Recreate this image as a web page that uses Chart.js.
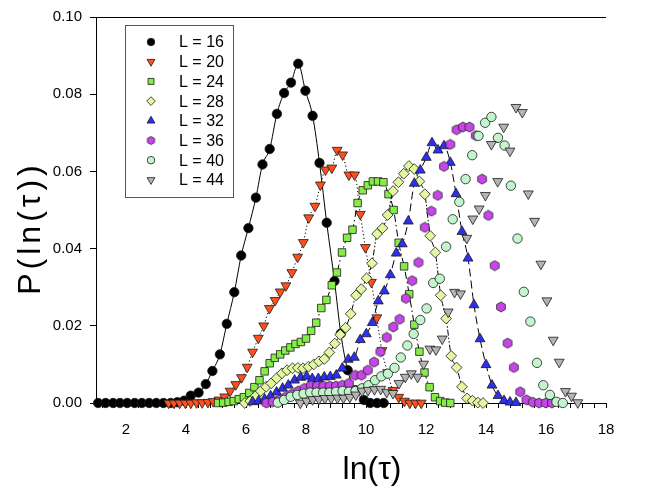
<!DOCTYPE html>
<html>
<head>
<meta charset="utf-8">
<script src="https://cdn.jsdelivr.net/npm/chart.js@4/dist/chart.umd.min.js"></script>
<style>
  html, body { margin: 0; padding: 0; background: #fff; }
  #wrap { width: 648px; height: 488px; position: relative; }
</style>
</head>
<body>
<div id="wrap"><canvas id="chart"></canvas></div>
<script>
// values: x = ln(tau), y = P(ln(tau))
const lnTau16 = [1.07,1.32,1.57,1.80,2.04,2.29,2.53,2.77,3.01,3.25,3.49,3.71,3.94,4.16,4.42,4.66,4.88,5.13,5.36,5.61,5.84,6.08,6.33,6.55,6.79,7.03,7.27,7.50,7.74,7.98,8.22,8.45,8.69,8.95,9.16,9.39,9.65,9.93,10.14,10.37,10.59];
const p16 = [0,0,0,0,0,0,0,0,0,0,0,0.0002,0.0006,0.0019,0.0027,0.0049,0.0083,0.0126,0.0205,0.0287,0.0382,0.0453,0.0532,0.0618,0.0658,0.0749,0.0803,0.083,0.0879,0.0809,0.0744,0.0622,0.0467,0.0316,0.018,0.0085,0.0033,0.0008,0,0,0];

const lnTau20 = [3.42,3.60,3.79,3.98,4.16,4.35,4.54,4.73,4.91,5.10,5.29,5.47,5.66,5.85,6.04,6.22,6.41,6.59,6.78,6.97,7.14,7.33,7.53,7.72,7.91,8.09,8.30,8.48,8.65,8.86,9.04,9.22,9.43,9.62,9.81,9.98,10.18,10.36,10.53,10.72,10.90,11.09,11.28,11.46,11.65,11.84];
const p20 = [0,0,0,0,0,0.0001,0.0001,0.0002,0.0004,0.0008,0.0016,0.0031,0.0048,0.0066,0.0093,0.0132,0.0168,0.02,0.0245,0.0266,0.0288,0.0304,0.0338,0.0378,0.0416,0.048,0.051,0.0565,0.0604,0.0609,0.0655,0.0643,0.0591,0.0591,0.0489,0.0403,0.0313,0.0221,0.0136,0.0079,0.0033,0.0015,0.0005,0,0,0];

const lnTau24 = [5.07,5.24,5.42,5.59,5.76,5.93,6.11,6.28,6.45,6.62,6.79,6.96,7.14,7.31,7.48,7.65,7.83,8.00,8.17,8.34,8.51,8.68,8.86,9.03,9.20,9.37,9.55,9.72,9.89,10.06,10.23,10.40,10.58,10.75,10.92,11.09,11.27,11.44,11.61,11.78,11.95,12.12,12.30,12.47,12.64,12.81];
const p24 = [0,0.0001,0.0003,0.0005,0.001,0.0015,0.0026,0.0041,0.0059,0.0082,0.0103,0.0117,0.0126,0.0136,0.0144,0.0153,0.0158,0.0167,0.0187,0.0208,0.0246,0.0267,0.0305,0.0338,0.039,0.0428,0.0449,0.0518,0.0551,0.0564,0.0574,0.0574,0.0572,0.0541,0.05,0.0415,0.0354,0.0282,0.0203,0.0133,0.0079,0.0041,0.0015,0.0005,0.0001,0];

const lnTau28 = [5.96,6.14,6.32,6.49,6.67,6.84,7.02,7.20,7.37,7.55,7.73,7.90,8.08,8.26,8.43,8.61,8.78,8.96,9.14,9.32,9.49,9.67,9.84,10.02,10.20,10.37,10.55,10.72,10.90,11.08,11.26,11.43,11.61,11.78,11.96,12.14,12.31,12.49,12.67,12.84,13.02,13.20,13.37,13.55,13.73,13.90];
const p28 = [0,0.0005,0.0018,0.0031,0.0042,0.0051,0.0064,0.0077,0.0085,0.009,0.0091,0.009,0.0094,0.01,0.0108,0.0114,0.0131,0.0154,0.0177,0.0195,0.0231,0.0279,0.0295,0.0323,0.0362,0.0438,0.0453,0.0487,0.0549,0.0572,0.0594,0.0614,0.0606,0.0574,0.0541,0.0433,0.039,0.0279,0.0219,0.0122,0.0092,0.0042,0.0012,0.0006,0.0001,0];

const lnTau32 = [6.22,6.42,6.62,6.82,7.02,7.22,7.41,7.62,7.82,8.02,8.21,8.41,8.61,8.81,9.01,9.21,9.41,9.61,9.81,10.01,10.21,10.41,10.61,10.81,11.01,11.21,11.41,11.61,11.81,12.01,12.20,12.40,12.60,12.81,13.00,13.20,13.40,13.60,13.80,14.00,14.20,14.40,14.60,14.80,15.00];
const p32 = [0.0003,0.0005,0.001,0.0018,0.0028,0.0038,0.0046,0.0059,0.0066,0.0069,0.0063,0.0063,0.0067,0.0068,0.0072,0.009,0.0113,0.0118,0.0164,0.0179,0.0208,0.0264,0.029,0.0332,0.0388,0.0412,0.0471,0.0569,0.0603,0.0636,0.0674,0.0655,0.0666,0.0623,0.0542,0.0444,0.0375,0.0254,0.0166,0.0099,0.0046,0.0019,0.0006,0.0002,0.0001];

const lnTau36 = [6.68,6.89,7.10,7.31,7.52,7.74,7.95,8.16,8.37,8.58,8.79,9.00,9.21,9.43,9.64,9.85,10.06,10.27,10.48,10.69,10.91,11.12,11.33,11.54,11.75,11.96,12.18,12.39,12.60,12.81,13.02,13.23,13.45,13.66,13.87,14.08,14.29,14.50,14.72,14.93,15.14,15.35,15.56,15.77,15.99,16.20];
const p36 = [0,0.0003,0.0008,0.0015,0.0023,0.0031,0.0038,0.0045,0.0044,0.0044,0.0044,0.0044,0.0046,0.0051,0.0072,0.0072,0.0085,0.0106,0.0133,0.017,0.0197,0.0217,0.0271,0.0317,0.0364,0.0455,0.0497,0.0538,0.0613,0.067,0.0708,0.0715,0.0715,0.0693,0.058,0.0486,0.0356,0.0249,0.0155,0.0092,0.0029,0.0008,0.0002,0,0,0];

const lnTau40 = [7.06,7.27,7.49,7.71,7.92,8.14,8.35,8.57,8.78,9.00,9.22,9.43,9.65,9.87,10.08,10.30,10.51,10.73,10.95,11.16,11.38,11.59,11.81,12.02,12.24,12.46,12.67,12.89,13.11,13.32,13.54,13.75,13.97,14.18,14.40,14.62,14.83,15.05,15.26,15.48,15.70,15.91,16.13,16.35,16.56];
const p40 = [0.0001,0.0008,0.0016,0.0021,0.0024,0.0027,0.0027,0.0027,0.0027,0.0029,0.0031,0.0029,0.0031,0.0038,0.0046,0.0059,0.0069,0.0076,0.0091,0.0118,0.0149,0.0179,0.0215,0.0245,0.0311,0.0322,0.0405,0.0476,0.0521,0.058,0.0642,0.0692,0.0726,0.0741,0.0687,0.0667,0.0563,0.0426,0.0288,0.0211,0.0104,0.0046,0.0021,0.0003,0];

const lnTau44 = [7.81,8.02,8.22,8.43,8.63,8.84,9.05,9.25,9.46,9.66,9.87,10.07,10.28,10.49,10.69,10.90,11.10,11.31,11.51,11.72,11.92,12.13,12.33,12.54,12.74,12.95,13.15,13.36,13.56,13.77,13.98,14.18,14.39,14.59,14.80,15.00,15.21,15.41,15.62,15.83,16.03,16.24,16.44,16.65,16.85,17.06];
const p44 = [0,0.0005,0.0009,0.001,0.0012,0.0012,0.0013,0.0013,0.0015,0.0021,0.0031,0.0033,0.0035,0.0036,0.0028,0.0025,0.0051,0.0067,0.0076,0.0067,0.0101,0.014,0.0138,0.0166,0.0236,0.0287,0.0283,0.0427,0.0477,0.0503,0.0538,0.067,0.0574,0.0715,0.0653,0.0766,0.0753,0.0542,0.0471,0.036,0.0265,0.0163,0.0106,0.003,0.0018,0.0001];

const xTickLabels = [2, 4, 6, 8, 10, 12, 14, 16, 18];
const yTickLabels = [0, 0.02, 0.04, 0.06, 0.08, 0.10];

const FONT = '"Liberation Sans", Arial, Helvetica, sans-serif';

// hexagon marker (Chart.js has no built-in hexagon)
function hexagon(fill, r) {
  const c = document.createElement('canvas');
  const s = Math.ceil(2 * r + 2);
  c.width = s; c.height = s;
  const g = c.getContext('2d');
  g.beginPath();
  for (let i = 0; i < 6; i++) {
    const a = -Math.PI / 2 + i * Math.PI / 3;
    const px = s / 2 + r * Math.cos(a), py = s / 2 + r * Math.sin(a);
    i ? g.lineTo(px, py) : g.moveTo(px, py);
  }
  g.closePath();
  g.fillStyle = fill; g.fill();
  g.lineWidth = 0.8; g.strokeStyle = '#222'; g.stroke();
  return c;
}

const series = [
  { label: 'L = 16', x: lnTau16, y: p16, style: 'circle', rot: 0, r: 4.7, fill: '#000000', dash: [], line: true },
  { label: 'L = 20', x: lnTau20, y: p20, style: 'triangle', rot: 180, r: 5.7, fill: '#ff4f1c', dash: [1.2, 2.4], line: true },
  { label: 'L = 24', x: lnTau24, y: p24, style: 'rect', rot: 0, r: 5.3, fill: '#86ec48', dash: [7, 3, 1.5, 3], line: true },
  { label: 'L = 28', x: lnTau28, y: p28, style: 'rectRot', rot: 0, r: 5.4, fill: '#e2f7a0', dash: [6, 2, 1.5, 2, 1.5, 2], line: true },
  { label: 'L = 32', x: lnTau32, y: p32, style: 'triangle', rot: 0, r: 5.7, fill: '#2f2ff0', dash: [8, 4], line: true },
  { label: 'L = 36', x: lnTau36, y: p36, style: hexagon('#c845ec', 5), legendStyle: hexagon('#c845ec', 4.1), rot: 0, r: 5, fill: '#c845ec', dash: [], line: false },
  { label: 'L = 40', x: lnTau40, y: p40, style: 'circle', rot: 0, r: 4.7, fill: '#c2f5cc', dash: [], line: false },
  { label: 'L = 44', x: lnTau44, y: p44, style: 'triangle', rot: 180, r: 5.7, fill: '#b4b4b4', dash: [], line: false }
];

const datasets = series.map((s, i) => ({
  label: s.label,
  data: s.x.map((v, k) => ({ x: v, y: s.y[k] })),
  showLine: s.line,
  cubicInterpolationMode: 'monotone',
  borderColor: '#000',
  borderWidth: 1,
  borderDash: s.dash,
  pointStyle: s.style,
  pointRotation: s.rot,
  pointRadius: s.r,
  pointBackgroundColor: s.fill,
  pointBorderColor: '#1a1a1a',
  pointBorderWidth: 0.8,
  order: series.length - i,
  clip: false
}));

// minor ticks every 0.4 on x, labelled every 2
const xTicks = [];
for (let v = 12; v <= 180; v += 4) xTicks.push(v / 10);

const framePlugin = {
  id: 'frame',
  afterDraw(chart) {
    const ctx = chart.ctx, a = chart.chartArea;
    ctx.save();
    // top border
    ctx.strokeStyle = '#000'; ctx.lineWidth = 1;
    ctx.beginPath(); ctx.moveTo(a.left, a.top + 0.5); ctx.lineTo(a.right, a.top + 0.5); ctx.stroke();

    // axis titles
    ctx.fillStyle = '#000';
    ctx.textAlign = 'center'; ctx.textBaseline = 'middle';
    ctx.font = '32px ' + FONT;
    ctx.fillText('ln(\u03C4)', 372, 470);
    ctx.save();
    ctx.translate(31, 228);
    ctx.rotate(-Math.PI / 2);
    ctx.letterSpacing = '4px';
    ctx.fillText('P(ln(\u03C4))', 0, 0);
    ctx.restore();

    // legend box
    const bx = 125, by = 25, bw = 108, bh = 172;
    ctx.fillStyle = '#fff';
    ctx.fillRect(bx, by, bw, bh);
    ctx.strokeStyle = '#555'; ctx.lineWidth = 1;
    ctx.strokeRect(bx + 0.5, by + 0.5, bw, bh);
    ctx.font = '16px ' + FONT;
    ctx.textAlign = 'left';
    series.forEach((s, i) => {
      const yy = 42 + i * 19.7;
      ctx.fillStyle = s.fill;
      ctx.strokeStyle = '#1a1a1a';
      ctx.lineWidth = 0.8;
      Chart.helpers.drawPoint(ctx, {
        pointStyle: s.legendStyle || s.style,
        rotation: s.rot,
        radius: s.r * 0.8,
        borderWidth: 0.8
      }, 151, yy);
      ctx.fillStyle = '#000';
      ctx.fillText(s.label, 179, yy + 1);
    });
    ctx.restore();
  }
};

new Chart(document.getElementById('chart'), {
  type: 'scatter',
  data: { datasets },
  plugins: [framePlugin],
  options: {
    responsive: true,
    maintainAspectRatio: false,
    animation: false,
    layout: { padding: { top: 13, right: 42, left: 0, bottom: 0 } },
    plugins: { legend: { display: false }, tooltip: { enabled: false } },
    scales: {
      x: {
        type: 'linear', min: 1, max: 18,
        afterFit: (s) => { s.height = 85; },
        afterBuildTicks: (s) => { s.ticks = xTicks.map(v => ({ value: v })); },
        ticks: {
          autoSkip: false, maxRotation: 0, padding: 13, color: '#000',
          font: { family: FONT, size: 15 },
          callback: (v) => xTickLabels.includes(Math.round(v * 10) / 10) ? String(Math.round(v)) : ''
        },
        grid: { drawOnChartArea: false, tickLength: 5, color: '#000' },
        border: { color: '#000', width: 1 }
      },
      y: {
        type: 'linear', min: 0, max: 0.1,
        afterFit: (s) => { s.width = 96; },
        afterBuildTicks: (s) => { s.ticks = yTickLabels.map(v => ({ value: v })); },
        ticks: {
          padding: 8, color: '#000',
          font: { family: FONT, size: 15 },
          callback: (v) => v.toFixed(2)
        },
        grid: { drawOnChartArea: false, tickLength: 6, color: '#000' },
        border: { color: '#000', width: 1 }
      }
    }
  }
});
</script>
</body>
</html>
